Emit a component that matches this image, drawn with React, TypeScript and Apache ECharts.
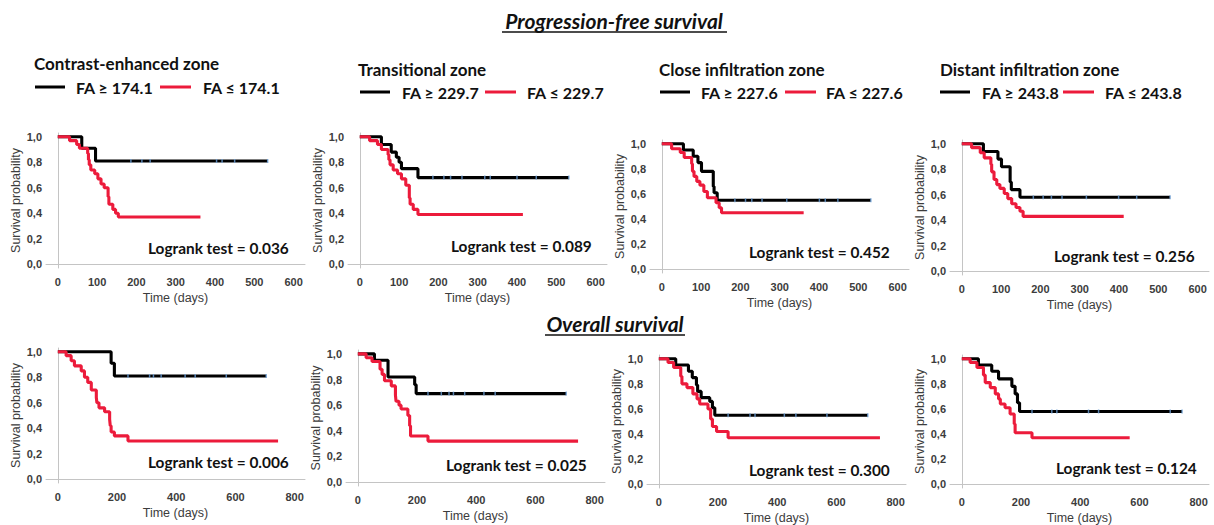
import React, { useEffect, useRef } from "react";
import * as echarts from "echarts";

// Kaplan-Meier step curves: [time in days, survival probability after the event]
// Progression-free survival
const pfsCeHigh: [number, number][] = [[0, 1], [61, 0.91], [96, 0.81], [534, 0.81]];
const pfsCeLow: [number, number][] = [[0, 1], [30, 0.97], [48, 0.94], [55, 0.91], [76, 0.87], [78, 0.82], [80, 0.78], [84, 0.74], [94, 0.71], [102, 0.67], [110, 0.63], [118, 0.6], [128, 0.53], [130, 0.47], [140, 0.43], [147, 0.4], [154, 0.37], [363, 0.37]];
const pfsCeCensor = [186, 214, 235, 404, 418, 450, 534];

const pfsTrHigh: [number, number][] = [[0, 1], [55, 0.94], [80, 0.88], [93, 0.84], [100, 0.8], [106, 0.75], [148, 0.68], [532, 0.68]];
const pfsTrLow: [number, number][] = [[0, 1], [25, 0.97], [45, 0.94], [55, 0.9], [72, 0.86], [74, 0.82], [77, 0.78], [85, 0.74], [96, 0.71], [106, 0.67], [117, 0.62], [126, 0.52], [128, 0.47], [136, 0.43], [148, 0.39], [415, 0.39]];
const pfsTrCensor = [186, 214, 231, 260, 318, 332, 400, 449, 532];

const pfsCiHigh: [number, number][] = [[0, 1], [55, 0.95], [80, 0.9], [92, 0.85], [101, 0.78], [131, 0.66], [133, 0.61], [141, 0.55], [532, 0.55]];
const pfsCiLow: [number, number][] = [[0, 1], [25, 0.96], [47, 0.93], [57, 0.89], [76, 0.84], [78, 0.78], [82, 0.74], [89, 0.7], [97, 0.67], [107, 0.62], [116, 0.57], [138, 0.53], [146, 0.49], [152, 0.45], [361, 0.45]];
const pfsCiCensor = [186, 213, 229, 255, 318, 401, 416, 448, 532];

const pfsDiHigh: [number, number][] = [[0, 1], [55, 0.94], [92, 0.88], [101, 0.82], [123, 0.7], [126, 0.64], [148, 0.58], [530, 0.58]];
const pfsDiLow: [number, number][] = [[0, 1], [25, 0.97], [47, 0.93], [57, 0.89], [74, 0.84], [76, 0.78], [82, 0.72], [89, 0.68], [97, 0.65], [108, 0.61], [117, 0.57], [127, 0.53], [138, 0.5], [148, 0.47], [156, 0.43], [412, 0.43]];
const pfsDiCensor = [182, 207, 228, 255, 317, 399, 445, 530];

// Overall survival
const osCeHigh: [number, number][] = [[0, 1], [180, 0.91], [191, 0.81], [704, 0.81]];
const osCeLow: [number, number][] = [[0, 1], [28, 0.97], [45, 0.93], [56, 0.89], [79, 0.85], [90, 0.8], [101, 0.76], [113, 0.7], [130, 0.64], [132, 0.6], [139, 0.56], [158, 0.53], [175, 0.47], [177, 0.42], [180, 0.37], [191, 0.34], [237, 0.3], [744, 0.3]];
const osCeCensor = [237, 310, 323, 349, 430, 464, 569, 704];

const osTrHigh: [number, number][] = [[0, 1], [56, 0.95], [102, 0.82], [192, 0.76], [197, 0.69], [704, 0.69]];
const osTrLow: [number, number][] = [[0, 1], [28, 0.97], [48, 0.94], [75, 0.88], [82, 0.84], [90, 0.79], [113, 0.75], [127, 0.68], [129, 0.63], [139, 0.6], [146, 0.57], [169, 0.52], [175, 0.44], [178, 0.36], [237, 0.32], [744, 0.32]];
const osTrCensor = [237, 282, 308, 323, 361, 426, 464, 704];

const osCiHigh: [number, number][] = [[0, 1], [57, 0.95], [100, 0.9], [113, 0.85], [127, 0.79], [131, 0.74], [143, 0.69], [172, 0.66], [181, 0.61], [189, 0.55], [706, 0.55]];
const osCiLow: [number, number][] = [[0, 1], [31, 0.97], [50, 0.93], [74, 0.86], [78, 0.8], [95, 0.77], [115, 0.72], [129, 0.68], [138, 0.64], [166, 0.6], [175, 0.52], [181, 0.46], [195, 0.42], [234, 0.37], [747, 0.37]];
const osCiCensor = [234, 308, 325, 424, 463, 568, 706];

const osDiHigh: [number, number][] = [[0, 1], [56, 0.95], [101, 0.9], [124, 0.84], [169, 0.78], [180, 0.72], [188, 0.65], [195, 0.58], [744, 0.58]];
const osDiLow: [number, number][] = [[0, 1], [28, 0.97], [51, 0.93], [73, 0.87], [79, 0.81], [96, 0.77], [113, 0.72], [124, 0.68], [130, 0.64], [146, 0.61], [163, 0.56], [177, 0.48], [180, 0.41], [237, 0.37], [567, 0.37]];
const osDiCensor = [237, 304, 321, 428, 462, 704, 744];

// Zones, FA cut-offs and log-rank p values
const zoneNames = ["Contrast-enhanced zone", "Transitional zone", "Close infiltration zone", "Distant infiltration zone"];
const faCutoffs = ["174.1", "229.7", "227.6", "243.8"];
const pfsLogrank = ["0.036", "0.089", "0.452", "0.256"];
const osLogrank = ["0.006", "0.025", "0.300", "0.124"];

const pfsTicks = [0, 100, 200, 300, 400, 500, 600];
const osTicks = [0, 200, 400, 600, 800];
const yTicks = [0, 0.2, 0.4, 0.6, 0.8, 1.0];

const FONT = 'Lato, "Open Sans", sans-serif';
const AXIS_FONT = '"Liberation Sans", Arial, sans-serif';
const RED = "#ec1b3b";
const AXIS_GRAY = "#c4c4c4";
const LABEL_GRAY = "#3c3c3c";

// Panel placement (pixels) and axis extents
const panelBoxes = [
  { left: 46, top: 133, width: 259, height: 135, xMin: -30, xMax: 629, logX: 148, logY: 248 },
  { left: 348, top: 133, width: 259, height: 135, xMin: -30, xMax: 629, logX: 451, logY: 246 },
  { left: 650, top: 140, width: 259, height: 133, xMin: -30, xMax: 629, logX: 749, logY: 252 },
  { left: 950, top: 140, width: 259, height: 135, xMin: -30, xMax: 629, logX: 1054, logY: 256 },
  { left: 46, top: 348, width: 259, height: 135, xMin: -40, xMax: 835, logX: 148, logY: 462 },
  { left: 346, top: 350, width: 259, height: 136, xMin: -40, xMax: 835, logX: 446, logY: 465 },
  { left: 647, top: 355, width: 259, height: 133, xMin: -40, xMax: 835, logX: 749, logY: 470 },
  { left: 950, top: 355, width: 259, height: 134, xMin: -40, xMax: 835, logX: 1056, logY: 468 },
];

// Zone heading + legend placement
const legendBoxes = [
  { titleX: 34, titleY: 63, y: 87, l1: 35, t1: 76, l2: 160, t2: 203 },
  { titleX: 358, titleY: 69, y: 92, l1: 360, t1: 402, l2: 485, t2: 527 },
  { titleX: 659, titleY: 69, y: 92, l1: 660, t1: 701, l2: 785, t2: 826 },
  { titleX: 940, titleY: 69, y: 92, l1: 940, t1: 982, l2: 1063, t2: 1105 },
];

const highCurves = [pfsCeHigh, pfsTrHigh, pfsCiHigh, pfsDiHigh, osCeHigh, osTrHigh, osCiHigh, osDiHigh];
const lowCurves = [pfsCeLow, pfsTrLow, pfsCiLow, pfsDiLow, osCeLow, osTrLow, osCiLow, osDiLow];
const censorTimes = [pfsCeCensor, pfsTrCensor, pfsCiCensor, pfsDiCensor, osCeCensor, osTrCensor, osCiCensor, osDiCensor];
const logranks = [...pfsLogrank, ...osLogrank];

function survivalAt(curve: [number, number][], t: number): number {
  let s = curve[0][1];
  for (const [time, value] of curve) {
    if (time <= t) s = value;
  }
  return s;
}

function buildOption() {
  const grid: any[] = [];
  const xAxis: any[] = [];
  const yAxis: any[] = [];
  const series: any[] = [];
  const graphic: any[] = [];

  panelBoxes.forEach((box, i) => {
    const isOs = i >= 4;
    grid.push({ left: box.left, top: box.top, width: box.width, height: box.height });
    xAxis.push({
      type: "value",
      gridIndex: i,
      min: box.xMin,
      max: box.xMax,
      axisLine: { show: true, lineStyle: { color: AXIS_GRAY, width: 1 } },
      axisTick: { show: false },
      splitLine: { show: false },
      axisLabel: {
        customValues: isOs ? osTicks : pfsTicks,
        color: LABEL_GRAY,
        fontWeight: "bold",
        fontSize: 11,
        fontFamily: AXIS_FONT,
        margin: 8,
      },
      name: "Time (days)",
      nameLocation: "middle",
      nameGap: 23,
      nameTextStyle: { color: LABEL_GRAY, fontSize: 12.5, fontFamily: AXIS_FONT },
    });
    yAxis.push({
      type: "value",
      gridIndex: i,
      min: -0.03,
      max: 1.03,
      axisLine: { show: true, lineStyle: { color: AXIS_GRAY, width: 1 } },
      axisTick: { show: false },
      splitLine: { show: false },
      axisLabel: {
        customValues: yTicks,
        formatter: (v: number) => v.toFixed(1).replace(".", ","),
        color: LABEL_GRAY,
        fontWeight: "bold",
        fontSize: 11,
        fontFamily: AXIS_FONT,
        margin: 4,
      },
      name: "Survival probability",
      nameLocation: "middle",
      nameGap: 24,
      nameTextStyle: { color: LABEL_GRAY, fontSize: 12.5, fontFamily: AXIS_FONT },
    });

    series.push({
      type: "line",
      xAxisIndex: i,
      yAxisIndex: i,
      data: highCurves[i],
      step: "end",
      showSymbol: false,
      silent: true,
      lineStyle: { color: "#000", width: 3.1 },
      z: 2,
    });
    series.push({
      type: "line",
      xAxisIndex: i,
      yAxisIndex: i,
      data: lowCurves[i],
      step: "end",
      showSymbol: false,
      silent: true,
      lineStyle: { color: RED, width: 3.1 },
      z: 3,
    });
    series.push({
      type: "scatter",
      xAxisIndex: i,
      yAxisIndex: i,
      data: censorTimes[i].map((t) => [t, survivalAt(highCurves[i], t)]),
      symbol: "rect",
      symbolSize: [1.5, 4],
      silent: true,
      itemStyle: { color: "#6b9fd6" },
      z: 4,
    });

    graphic.push({
      type: "text",
      x: box.logX,
      y: box.logY,
      style: {
        text: `Logrank test = ${logranks[i]}`,
        font: `bold 15.4px ${FONT}`,
        fill: "#111",
        textAlign: "left",
        textVerticalAlign: "middle",
      },
    });
  });

  legendBoxes.forEach((lg, i) => {
    graphic.push({
      type: "text",
      x: lg.titleX,
      y: lg.titleY,
      style: { text: zoneNames[i], font: `bold 17px ${FONT}`, fill: "#111", textVerticalAlign: "middle" },
    });
    graphic.push({
      type: "line",
      shape: { x1: lg.l1, y1: lg.y, x2: lg.l1 + 30, y2: lg.y },
      style: { stroke: "#000", lineWidth: 3 },
    });
    graphic.push({
      type: "text",
      x: lg.t1,
      y: lg.y,
      style: { text: `FA ≥ ${faCutoffs[i]}`, font: `bold 16px ${FONT}`, fill: "#111", textVerticalAlign: "middle" },
    });
    graphic.push({
      type: "line",
      shape: { x1: lg.l2, y1: lg.y, x2: lg.l2 + 31, y2: lg.y },
      style: { stroke: RED, lineWidth: 3 },
    });
    graphic.push({
      type: "text",
      x: lg.t2,
      y: lg.y,
      style: { text: `FA ≤ ${faCutoffs[i]}`, font: `bold 16px ${FONT}`, fill: "#111", textVerticalAlign: "middle" },
    });
  });

  // Section headings with underline
  const headings = [
    { text: "Progression-free survival", x: 614, y: 20, u1: 502, u2: 727, uy: 32 },
    { text: "Overall survival", x: 615, y: 323, u1: 545, u2: 685, uy: 335 },
  ];
  headings.forEach((h) => {
    graphic.push({
      type: "text",
      x: h.x,
      y: h.y,
      style: {
        text: h.text,
        font: `italic bold 21px ${FONT}`,
        fill: "#111",
        textAlign: "center",
        textVerticalAlign: "middle",
      },
    });
    graphic.push({
      type: "line",
      shape: { x1: h.u1, y1: h.uy, x2: h.u2, y2: h.uy },
      style: { stroke: "#111", lineWidth: 1.3 },
    });
  });

  return {
    animation: false,
    backgroundColor: "#ffffff",
    textStyle: { fontFamily: FONT },
    grid,
    xAxis,
    yAxis,
    series,
    graphic,
  };
}

export default function App() {
  const ref = useRef<HTMLDivElement>(null);
  useEffect(() => {
    if (!ref.current) return;
    const chart = echarts.init(ref.current, undefined, { renderer: "svg" });
    chart.setOption(buildOption());
    return () => chart.dispose();
  }, []);
  return (
    <div
      ref={ref}
      style={{ position: "fixed", left: 0, top: 0, width: 1214, height: 525, background: "#fff" }}
    />
  );
}
